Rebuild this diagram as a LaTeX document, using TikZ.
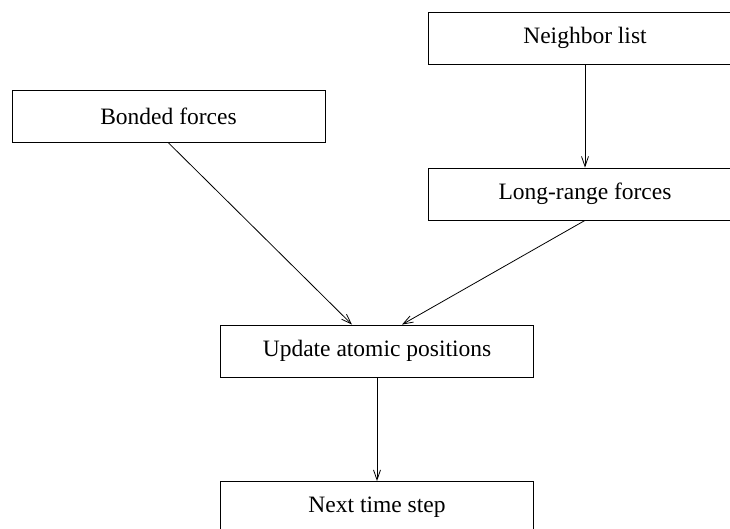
\documentclass[tikz,border=0pt]{standalone}
\usepackage{fontspec}
\setmainfont{Liberation Serif}
\usetikzlibrary{arrows.meta}
\begin{document}
\begin{tikzpicture}[x=1pt,y=-1pt,
  box/.style={draw,line width=0.8pt,rectangle,minimum width=313pt,minimum height=52pt,inner sep=0pt,
    font=\fontsize{23.5}{28}\selectfont},
  conn/.style={line width=0.8pt,-{Straight Barb[length=10pt,width=7pt,line width=0.8pt]}}]
\useasboundingbox (0,0) rectangle (730,529);
\node[box] (neighbor) at (585,38) {Neighbor list};
\node[box] (bonded) at (168.5,116.5) {Bonded forces};
\node[box] (long) at (585,194) {Long-range forces};
\node[box] (update) at (377,351) {Update atomic positions};
\node[box] (next) at (377,507.5) {Next time step};
\draw[conn] (neighbor.south) -- (long.north);
\draw[conn] (bonded.south) -- ([xshift=-25pt]update.north);
\draw[conn] (long.south) -- ([xshift=25pt]update.north);
\draw[conn] (update.south) -- (next.north);
\end{tikzpicture}
\end{document}
